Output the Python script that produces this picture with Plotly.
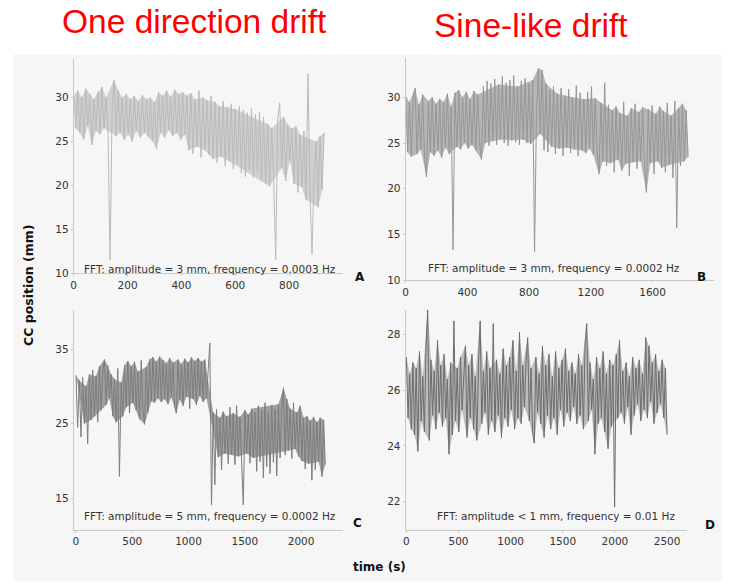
import numpy as np
import plotly.graph_objects as go

W, H = 731, 587

# ---------------- data ----------------
# Panel A: one direction drift, 0..930 s
a_end = 930
a_values = [30.2, 26.5, 30.8, 26.0, 30.0, 25.2, 31.0, 26.8, 30.4, 24.6,
            29.8, 26.2, 30.6, 25.8, 31.2, 26.5, 30.0, 26.0, 11.5, 28.5,
            32.0, 25.6, 30.8, 26.0, 30.0, 25.2, 30.4, 25.8, 29.8, 25.0,
            30.2, 26.2, 29.6, 25.4, 30.3, 26.0, 29.8, 25.5, 30.0, 25.0,
            29.5, 24.1, 30.6, 26.0, 30.2, 25.4, 30.8, 26.3, 30.1, 25.6,
            30.9, 26.0, 30.4, 25.2, 30.6, 25.8, 30.2, 24.0, 30.5, 23.6,
            29.8, 24.4, 30.8, 23.2, 30.0, 24.0, 29.7, 23.5, 30.2, 23.0,
            29.5, 22.6, 29.0, 23.3, 29.6, 22.2, 28.9, 22.8, 29.3, 21.9,
            28.7, 22.5, 29.0, 21.4, 28.6, 21.0, 28.3, 21.8, 28.8, 20.9,
            28.1, 21.5, 28.4, 20.6, 27.8, 20.2, 27.0, 19.9, 26.5, 21.0,
            11.5, 27.5, 29.4, 22.0, 27.8, 20.5, 26.9, 22.8, 26.5, 20.2,
            26.7, 19.2, 25.8, 19.8, 26.2, 18.4, 32.7, 19.0, 12.1, 21.5,
            25.0, 17.5, 25.6, 19.5, 26.0]

# Panel B: sine-like drift, 0..1830 s
b_end = 1830
b_values = [30.2, 24.0, 29.5, 23.5, 30.0, 31.0, 23.8, 29.2, 24.3, 30.3,
            23.2, 21.3, 29.6, 24.0, 30.0, 23.6, 29.3, 24.2, 29.8, 23.4,
            29.5, 24.5, 30.4, 23.8, 29.0, 13.3, 30.5, 24.6, 30.8, 24.3,
            30.0, 25.0, 30.6, 24.4, 29.8, 24.8, 30.7, 24.2, 30.3, 24.9,
            23.2, 31.2, 25.0, 31.8, 24.7, 31.5, 25.3, 32.0, 24.8, 31.4,
            25.4, 32.3, 25.0, 31.6, 24.7, 31.9, 25.3, 32.4, 25.1, 31.2,
            24.8, 31.8, 25.4, 32.1, 25.0, 31.5, 24.9, 31.9, 13.1, 28.0,
            33.2, 26.0, 33.0, 24.2, 31.5, 24.0, 30.8, 24.6, 31.2, 23.8,
            30.4, 24.4, 31.0, 23.6, 30.2, 24.5, 30.9, 23.9, 30.0, 24.3,
            31.3, 23.6, 30.5, 24.2, 29.8, 23.9, 30.6, 24.4, 31.2, 23.7,
            29.9, 24.0, 21.6, 29.4, 23.0, 31.6, 22.5, 29.2, 22.8, 28.6,
            21.8, 29.0, 23.2, 28.3, 22.0, 29.5, 22.7, 28.0, 21.4, 28.8,
            22.9, 29.3, 22.2, 28.4, 23.0, 28.9, 22.4, 19.6, 28.7, 22.8,
            29.1, 21.6, 28.2, 23.0, 29.0, 22.3, 28.5, 21.8, 29.4, 22.6,
            28.0, 21.2, 29.6, 15.7, 28.8, 22.5, 29.3, 23.0, 28.6, 23.5]

# Panel C: one direction drift (step), 0..2215 s
c_end = 2215
c_values = [31.5, 24.5, 30.8, 23.2, 31.2, 25.0, 30.0, 22.3, 31.6, 25.5,
            32.2, 26.0, 31.4, 25.2, 32.7, 26.8, 32.0, 33.6, 27.5, 32.8,
            28.4, 31.6, 26.0, 31.0, 25.2, 32.4, 17.9, 30.5, 26.0, 32.8,
            27.2, 33.4, 26.4, 32.7, 27.8, 33.3, 26.8, 32.0, 25.6, 33.5,
            27.0, 24.9, 32.6, 26.5, 33.6, 28.0, 33.9, 27.8, 33.3, 28.4,
            34.0, 27.9, 33.5, 28.3, 33.1, 27.6, 33.8, 28.5, 33.2, 27.2,
            26.4, 33.6, 28.2, 33.0, 27.4, 33.7, 28.6, 33.2, 27.0, 33.9,
            28.3, 33.4, 27.5, 33.8, 28.7, 33.3, 27.9, 33.6, 28.4, 32.8,
            35.8, 14.1, 26.5, 16.8, 26.9, 20.5, 25.8, 18.8, 26.6, 21.0,
            26.0, 19.6, 27.2, 20.8, 26.4, 19.5, 27.4, 20.6, 25.9, 19.9,
            14.1, 26.8, 21.0, 26.2, 19.7, 27.0, 20.4, 26.5, 18.6, 27.4,
            19.9, 26.8, 17.7, 27.8, 19.2, 26.6, 18.3, 27.5, 19.8, 26.9,
            18.0, 27.6, 20.4, 27.2, 29.8, 20.8, 28.3, 21.4, 27.0, 20.3,
            27.8, 21.6, 26.5, 20.6, 27.4, 20.0, 25.8, 18.9, 26.0, 19.6,
            25.4, 17.4, 25.9, 18.8, 25.2, 19.9, 25.8, 17.9, 25.5, 19.5]

# Panel D: sine-like drift (fast), 0..2500 s
d_end = 2500
d_values = [27.2, 25.0, 26.6, 24.6, 27.0, 24.4, 26.8, 23.8, 27.4, 24.9,
            26.5, 24.5, 27.6, 28.9, 24.2, 27.1, 25.1, 26.7, 24.6, 27.8,
            25.2, 26.9, 24.7, 27.3, 25.0, 26.4, 23.7, 27.0, 24.4, 28.5,
            24.9, 26.8, 24.5, 27.2, 25.3, 26.6, 27.6, 24.3, 26.9, 25.0,
            27.3, 24.6, 26.5, 24.2, 27.0, 28.5, 24.8, 26.7, 25.2, 27.4,
            24.4, 26.8, 24.9, 28.4, 24.5, 27.1, 25.1, 26.6, 24.3, 27.5,
            25.0, 26.9, 24.7, 27.2, 25.3, 27.8, 24.6, 26.7, 25.0, 28.1,
            24.8, 26.9, 25.4, 27.0, 27.9, 24.9, 26.8, 24.5, 24.1, 27.2,
            25.2, 26.6, 24.8, 27.6, 24.3, 26.9, 25.1, 27.3, 24.6, 26.5,
            25.0, 27.4, 24.4, 26.8, 25.3, 27.1, 24.7, 27.5, 25.2, 26.7,
            24.9, 27.0, 25.4, 26.6, 24.8, 27.3, 25.1, 26.9, 24.6, 27.7,
            28.4, 24.9, 27.0, 25.3, 26.4, 23.7, 27.2, 24.8, 26.8, 25.0,
            27.4, 24.5, 26.6, 23.9, 27.1, 24.7, 26.9, 21.8, 27.3, 25.0,
            27.8, 25.2, 26.7, 24.8, 27.0, 25.4, 26.5, 24.4, 27.2, 25.1,
            26.8, 25.5, 27.1, 24.9, 26.6, 25.3, 27.9, 25.0, 27.6, 25.6,
            27.0, 24.8, 27.3, 25.2, 26.7, 25.5, 27.1, 25.0, 26.8, 24.4]

a_xticks = [0, 200, 400, 600, 800]
a_yticks = [10, 15, 20, 25, 30]
b_xticks = [0, 400, 800, 1200, 1600]
b_yticks = [10, 15, 20, 25, 30]
c_xticks = [0, 500, 1000, 1500, 2000]
c_yticks = [15, 25, 35]
d_xticks = [0, 500, 1000, 1500, 2000, 2500]
d_yticks = [22, 24, 26, 28]

a_note = "FFT: amplitude = 3 mm, frequency = 0.0003 Hz"
b_note = "FFT: amplitude = 3 mm, frequency = 0.0002 Hz"
c_note = "FFT: amplitude = 5 mm, frequency = 0.0002 Hz"
d_note = "FFT: amplitude < 1 mm, frequency = 0.01 Hz"

# ---------------- helpers ----------------
def px(x):
    return x / W

def py(y):
    return 1 - y / H

TICKFONT = dict(family="DejaVu Sans", size=10.5, color="#333333")


def envelope(t, v, thr):
    """Upper/lower envelope polygon from local extrema, skipping isolated spikes."""
    v = np.asarray(v, dtype=float)
    n = len(v)
    up_t, up_v, lo_t, lo_v = [], [], [], []
    for i in range(n):
        win = v[max(0, i - 3): i + 4]
        if abs(v[i] - np.median(win)) > thr:
            continue
        left = v[i - 1] if i > 0 else v[i + 1]
        right = v[i + 1] if i < n - 1 else v[i - 1]
        if v[i] >= left and v[i] >= right:
            up_t.append(t[i]); up_v.append(v[i])
        elif v[i] <= left and v[i] <= right:
            lo_t.append(t[i]); lo_v.append(v[i])
    xs = up_t + lo_t[::-1] + [up_t[0]]
    ys = up_v + lo_v[::-1] + [up_v[0]]
    return xs, ys


fig = go.Figure()

panels = [
    ("x", "y", a_values, a_end, "#d0d0d0", "#bababa", 1.0, 6),
    ("x2", "y2", b_values, b_end, "#b6b6b6", "#969696", 1.0, 6),
    ("x3", "y3", c_values, c_end, "#a0a0a0", "#7c7c7c", 1.0, 6),
    ("x4", "y4", d_values, d_end, "#bdbdbd", "#6c6c6c", 1.0, 3),
]
for xa, ya, vals, tend, fillc, col, lw, thr in panels:
    t = np.linspace(0, tend, len(vals))
    ex, ey = envelope(list(t), vals, thr)
    fig.add_trace(go.Scatter(x=ex, y=ey, mode="lines", xaxis=xa, yaxis=ya,
                             fill="toself", fillcolor=fillc,
                             line=dict(width=0, color=fillc), hoverinfo="skip",
                             showlegend=False))
    fig.add_trace(go.Scatter(x=t, y=vals, mode="lines", xaxis=xa, yaxis=ya,
                             line=dict(color=col, width=lw), hoverinfo="skip",
                             showlegend=False))

def xax(dom, rng, ticks):
    return dict(domain=dom, range=rng, tickvals=ticks, showgrid=False,
                zeroline=False, showline=True, linecolor="#c8c8c8", linewidth=1,
                ticks="outside", ticklen=2, tickcolor="#c8c8c8",
                tickfont=TICKFONT, fixedrange=True)

def yax(dom, rng, ticks, anchor):
    d = xax(dom, rng, ticks)
    d["anchor"] = anchor
    return d

layout_axes = dict(
    xaxis=dict(xax([px(71), px(341.4)], [0, 1000], a_xticks), anchor="y"),
    yaxis=yax([py(276), py(60)], [10, 34.35], a_yticks, "x"),
    xaxis2=dict(xax([px(404.3), px(714.3)], [0, 2000], b_xticks), anchor="y2"),
    yaxis2=yax([py(283), py(58.3)], [10, 34.34], b_yticks, "x2"),
    xaxis3=dict(xax([px(71), px(341.7)], [-20, 2375], c_xticks), anchor="y3"),
    yaxis3=yax([py(535), py(313.3)], [10.79, 40.23], c_yticks, "x3"),
    xaxis4=dict(xax([px(404.3), px(686.7)], [-7, 2690], d_xticks), anchor="y4"),
    yaxis4=yax([py(535), py(312.7)], [20.99, 28.91], d_yticks, "x4"),
)

def ann(text, x, y, size, color="#333333", family="DejaVu Sans", bold=False,
        angle=0):
    f = dict(family=family, size=size, color=color)
    if bold:
        f["weight"] = "bold"
    return dict(text=text, x=px(x), y=py(y), xref="paper", yref="paper",
                xanchor="center", yanchor="middle", showarrow=False, font=f,
                textangle=angle)

annotations = [
    ann("One direction drift", 192, 22, 33.5, color="#ff0000",
        family="Liberation Sans, Arial"),
    ann("Sine-like drift", 530.5, 26, 33.5, color="#ff0000",
        family="Liberation Sans, Arial"),
    ann(a_note, 207.6, 272, 10.5),
    ann(b_note, 553.7, 270.7, 10.5),
    ann(c_note, 207.5, 521.7, 10.5),
    ann(d_note, 555, 521.7, 10.5),
    ann("A", 358.5, 280, 12, color="#111111", bold=True),
    ann("B", 701, 280, 12, color="#111111", bold=True),
    ann("C", 355.5, 528.5, 12, color="#111111", bold=True),
    ann("D", 710, 530, 12, color="#111111", bold=True),
    ann("CC position (mm)", 25, 288, 12.5, color="#111111", bold=True, angle=-90),
    ann("time (s)", 378, 573, 12, color="#111111", bold=True),
]

fig.update_layout(
    width=W, height=H, margin=dict(l=0, r=0, t=0, b=0),
    paper_bgcolor="#ffffff", plot_bgcolor="rgba(0,0,0,0)",
    annotations=annotations,
    shapes=[dict(type="rect", xref="paper", yref="paper", x0=px(10), x1=px(722),
                 y0=0, y1=py(55), fillcolor="#f6f6f6", line=dict(width=0),
                 layer="below")],
    **layout_axes,
)

fig.write_html("out.html", config={"displayModeBar": False, "staticPlot": True},
               post_script="document.body.style.margin='0';document.body.style.overflow='hidden';")
